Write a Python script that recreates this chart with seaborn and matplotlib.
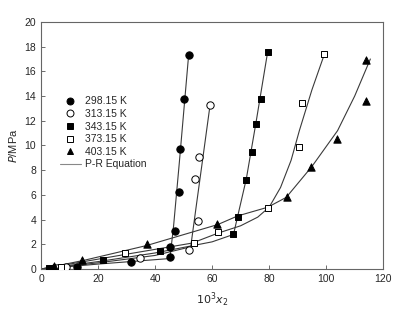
import matplotlib
matplotlib.use("Agg")
import matplotlib.pyplot as plt
from matplotlib.lines import Line2D
import seaborn as sns
import pandas as pd

# experimental points, 10^3 x2 and P/MPa
x_298 = [4.5, 12.7, 31.7, 45.4, 45.1, 46.9, 48.3, 48.6, 50.0, 51.8]
p_298 = [0.12, 0.2, 0.6, 0.95, 1.76, 3.1, 6.2, 9.7, 13.8, 17.35]
x_313 = [5.5, 8.7, 34.6, 51.9, 55.0, 53.9, 55.4, 59.3]
p_313 = [0.1, 0.14, 0.87, 1.54, 3.9, 7.3, 9.1, 13.3]
x_343 = [2.9, 21.8, 41.6, 67.5, 69.0, 72.0, 73.9, 75.5, 77.2, 79.5]
p_343 = [0.06, 0.73, 1.46, 2.84, 4.25, 7.2, 9.5, 11.7, 13.8, 17.6]
x_373 = [7.0, 29.4, 53.6, 62.0, 79.5, 90.6, 91.4, 99.4]
p_373 = [0.2, 1.27, 2.1, 3.0, 4.97, 9.9, 13.4, 17.4]
x_403 = [4.7, 14.5, 37.1, 61.7, 86.2, 94.7, 103.8, 114.0, 114.0]
p_403 = [0.24, 0.73, 2.0, 3.65, 5.8, 8.25, 10.5, 13.6, 16.95]

# P-R equation curves
cx_298 = [0, 20, 45.2, 46.5, 48.5, 50.0, 51.8]
cp_298 = [0, 0.4, 0.85, 3.5, 8.6, 12.6, 17.4]
cx_313 = [0, 20, 40, 52.5, 54.5, 57.0, 59.3]
cp_313 = [0, 0.5, 1.1, 1.8, 5.2, 9.4, 13.3]
cx_343 = [0, 20, 40, 60, 67.5, 69.0, 72.0, 75.5, 79.5]
cp_343 = [0, 0.6, 1.3, 2.2, 2.8, 4.3, 7.3, 12.0, 17.6]
cx_373 = [0, 30, 53, 62, 70, 76, 80, 84, 87.7, 90.6, 95, 99.4]
cp_373 = [0, 1.2, 2.1, 2.9, 3.5, 4.2, 5.0, 6.6, 8.8, 11.2, 14.5, 17.4]
cx_403 = [0, 15, 37, 62, 69, 79.5, 86, 95, 104, 110, 115.5]
cp_403 = [0, 0.7, 1.9, 3.6, 4.3, 5.0, 5.8, 8.3, 11.2, 14.0, 17.0]

labels = ["298.15 K", "313.15 K", "343.15 K", "373.15 K", "403.15 K"]
markers = ["o", "o", "s", "s", "^"]
filled = [True, False, True, False, True]

points = [(x_298, p_298), (x_313, p_313), (x_343, p_343), (x_373, p_373), (x_403, p_403)]
curves = [(cx_298, cp_298), (cx_313, cp_313), (cx_343, cp_343), (cx_373, cp_373), (cx_403, cp_403)]

sns.set_style("ticks")
plt.rcParams['font.family'] = ['Liberation Sans', 'DejaVu Sans']

fig = plt.figure(figsize=(4.04, 3.18), dpi=100)
ax = fig.add_axes([0.1015, 0.154, 0.847, 0.777])

line_col = "#3a3a3a"
for cx, cp in curves:
    sns.lineplot(x=cx, y=cp, ax=ax, color=line_col, linewidth=0.8, sort=False, estimator=None)

for (xs, ps), lab, m, f in zip(points, labels, markers, filled):
    df = pd.DataFrame({"x": xs, "p": ps})
    size = 28 if m != "s" else 22
    sns.scatterplot(data=df, x="x", y="p", ax=ax, marker=m, s=size,
                    color="black" if f else "white", edgecolor="black",
                    linewidth=0.7, zorder=3)

ax.set_xlim(0, 120)
ax.set_ylim(0, 20)
ax.set_xticks(range(0, 121, 20))
ax.set_yticks(range(0, 21, 2))
ax.tick_params(direction="in", length=3, width=0.6, labelsize=7.5, color="#555555")
for sp in ax.spines.values():
    sp.set_color("#666666")
    sp.set_linewidth(0.8)

ax.set_xlabel(r"$10^3x_2$", fontsize=8, labelpad=5)
ax.set_ylabel(r"$P$/MPa", fontsize=8, labelpad=4)

handles = []
for lab, m, f in zip(labels, markers, filled):
    handles.append(Line2D([], [], linestyle="none", marker=m, markersize=5,
                          markerfacecolor="black" if f else "white",
                          markeredgecolor="black", markeredgewidth=0.7, label=lab))
handles.append(Line2D([], [], color="#888888", linewidth=0.8, label="P-R Equation"))
ax.legend(handles=handles, loc="upper left", bbox_to_anchor=(0.04, 0.72),
          frameon=False, fontsize=7.5, handlelength=2.0, handletextpad=0.4,
          labelspacing=0.25, borderpad=0)

fig.savefig("out.png", dpi=100)
